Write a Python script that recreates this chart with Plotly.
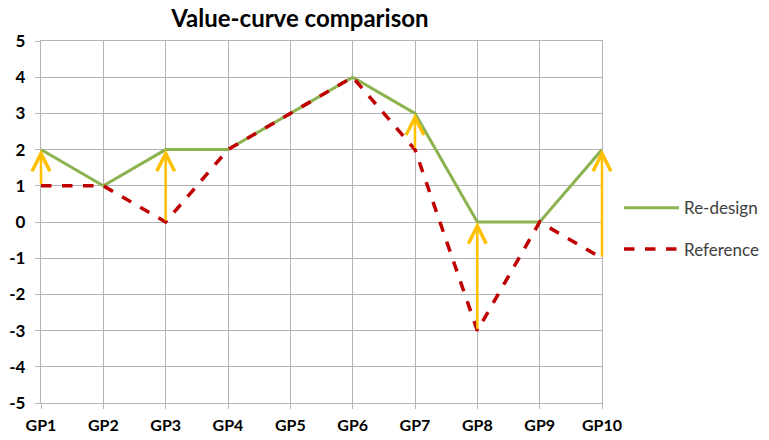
import plotly.graph_objects as go

# Category labels and the two value curves
categories = ["GP1", "GP2", "GP3", "GP4", "GP5", "GP6", "GP7", "GP8", "GP9", "GP10"]
redesign = [2, 1, 2, 2, 3, 4, 3, 0, 0, 2]
reference = [1, 1, 0, 2, 3, 4, 2, -3, 0, -1]
y_ticks = [5, 4, 3, 2, 1, 0, -1, -2, -3, -4, -5]
y_tick_text = ["5", "4", "3", "2", "1", "0", "-1", "-2", "-3", "-4", "-5"]

GRID = "#B3B3B3"
FONT = "Lato, 'Open Sans', sans-serif"

fig = go.Figure()

fig.add_trace(go.Scatter(
    x=categories, y=redesign, name="Re-design", mode="lines",
    line=dict(color="#8DB250", width=3), legendgroup="a", cliponaxis=False,
))
fig.add_trace(go.Scatter(
    x=categories, y=reference, name="Reference", mode="lines",
    line=dict(color="#C00000", width=3.5, dash="dash"), legendgroup="b",
    cliponaxis=False,
))

# Orange arrows from the reference curve up to the re-design curve
for i, (cat, new, old) in enumerate(zip(categories, redesign, reference)):
    if new > old:
        fig.add_annotation(
            x=i, y=new, ax=i, ay=old, xref="x", yref="y", axref="x", ayref="y",
            showarrow=True, arrowhead=5, arrowsize=1.4, arrowwidth=2.5,
            arrowcolor="#FFC000", text="", standoff=0,
        )

fig.update_layout(
    width=769, height=440,
    margin=dict(l=41, r=167, t=41, b=37, autoexpand=False),
    paper_bgcolor="white", plot_bgcolor="white",
    title=dict(text="<b>Value-curve comparison</b>", x=0.39, xanchor="center",
               y=0.958, yanchor="middle",
               font=dict(family=FONT, size=24, color="black")),
    font=dict(family=FONT, color="black"),
    showlegend=True,
    legend=dict(xref="container", yref="container", x=0.805, y=0.48,
                xanchor="left", yanchor="middle",
                font=dict(family=FONT, size=17, color="#404040"),
                itemwidth=55, tracegroupgap=16, bgcolor="rgba(0,0,0,0)"),
)

fig.update_xaxes(
    type="category", range=[0, 9], automargin=False,
    showgrid=True, gridcolor=GRID, gridwidth=1.3,
    showline=True, linecolor=GRID, linewidth=1.3, mirror=True,
    ticks="outside", ticklen=5, tickcolor=GRID, ticklabelstandoff=3,
    tickfont=dict(family=FONT, size=16, color="black", weight="bold"),
    zeroline=False,
)
fig.update_yaxes(
    range=[-5, 5], tickvals=y_ticks, ticktext=y_tick_text, automargin=False,
    showgrid=True, gridcolor=GRID, gridwidth=1.3,
    showline=True, linecolor=GRID, linewidth=1.3, mirror=True,
    ticks="outside", ticklen=5, tickcolor=GRID, ticklabelstandoff=6,
    tickfont=dict(family=FONT, size=17, color="black", weight="bold"),
    zeroline=False,
)

fig.write_html("out.html")
